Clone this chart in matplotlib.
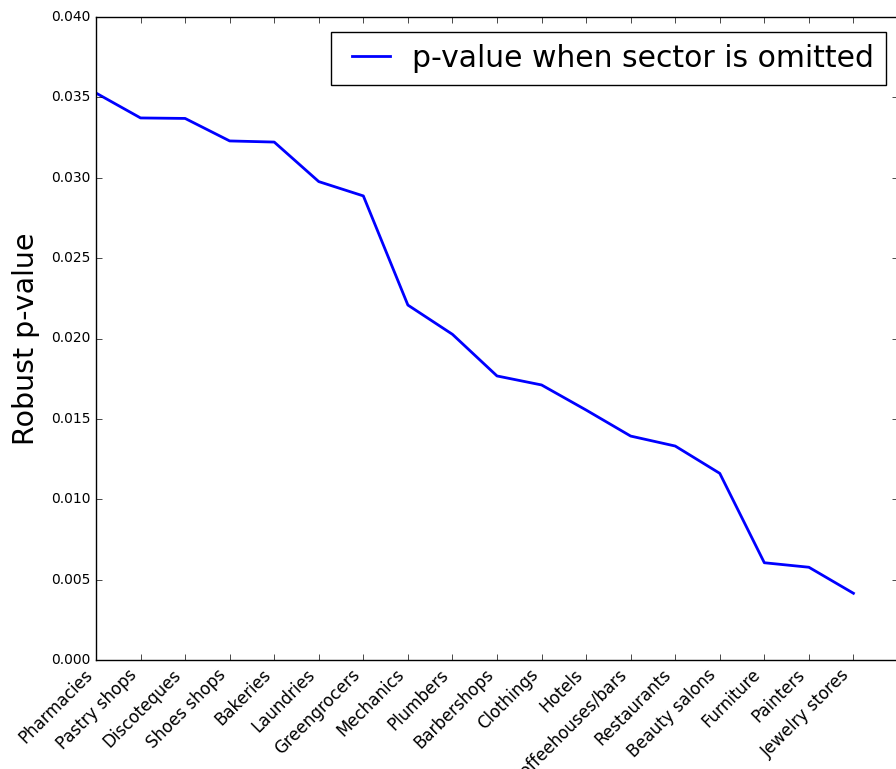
import matplotlib
matplotlib.use("Agg")
import matplotlib.pyplot as plt
import numpy as np

plt.style.use('classic')
plt.rcParams['font.family'] = ['DejaVu Sans']

sectors = ["Pharmacies", "Pastry shops", "Discoteques", "Shoes shops", "Bakeries",
           "Laundries", "Greengrocers", "Mechanics", "Plumbers", "Barbershops",
           "Clothings", "Hotels", "Coffeehouses/bars", "Restaurants", "Beauty salons",
           "Furniture", "Painters", "Jewelry stores"]
pvalues = [0.03527, 0.03372, 0.03369, 0.03229, 0.03222, 0.02976, 0.02887,
           0.02208, 0.02026, 0.01767, 0.01711, 0.01555, 0.01393, 0.01331,
           0.01161, 0.00605, 0.00577, 0.00415]
yticks = [0.000, 0.005, 0.010, 0.015, 0.020, 0.025, 0.030, 0.035, 0.040]

W, H = 896, 769
fig = plt.figure(figsize=(W / 100, H / 100), dpi=100, facecolor='white')
ax = fig.add_axes([96 / W, (H - 660) / H, (898 - 96) / W, (660 - 17) / H])

x = np.arange(len(sectors))
ax.plot(x, pvalues, color='#0000ff', lw=2, label='p-value when sector is omitted')

ax.set_xlim(0, 18)
ax.set_ylim(0, 0.040)
ax.set_yticks(yticks)
ax.set_yticklabels([f"{t:.3f}" for t in yticks], fontsize=10)
ax.set_xticks(x)
ax.set_xticklabels(sectors, rotation=45, ha='right', fontsize=12)
ax.set_ylabel('Robust p-value', fontsize=20.5)
ax.yaxis.set_label_coords(-0.070, 0.5)

leg = ax.legend(loc='upper right', fontsize=21.5, handlelength=1.85, handletextpad=0.45,
                frameon=True, fancybox=False, borderaxespad=0,
                bbox_to_anchor=(886 / W, 1 - 32 / H), bbox_transform=fig.transFigure)
leg.get_frame().set_linewidth(1)

fig.savefig('out.png', dpi=100, facecolor='white')
